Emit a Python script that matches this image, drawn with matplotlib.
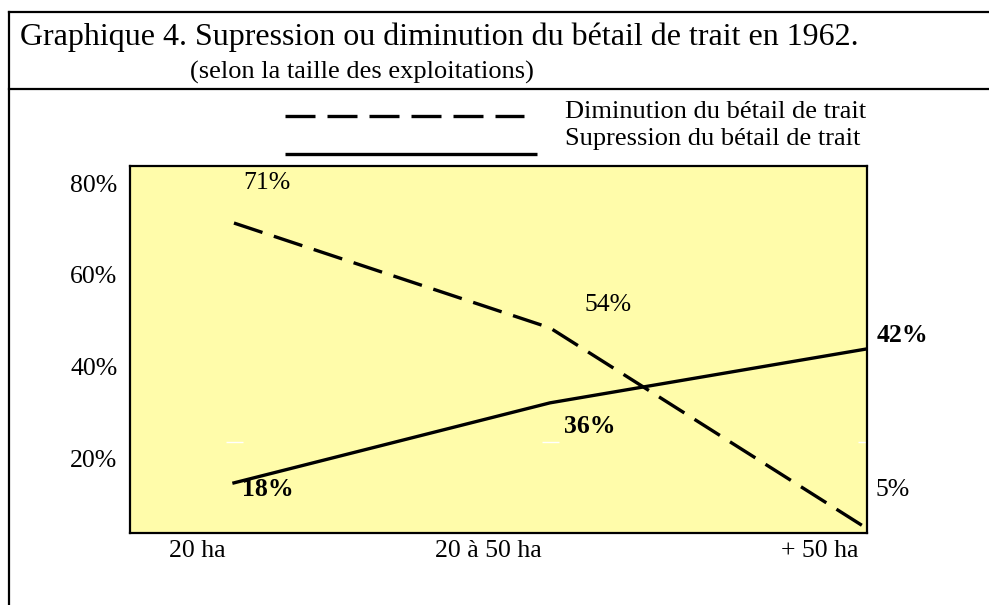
import matplotlib
matplotlib.use("Agg")
import matplotlib.pyplot as plt
import numpy as np
from matplotlib.lines import Line2D
from matplotlib import transforms

plt.rcParams["font.family"] = ["Liberation Serif", "DejaVu Serif"]

categories = ["20 ha", "20 à 50 ha", "+ 50 ha"]
# positions des courbes telles qu'elles sont tracées dans l'original
diminution = [71.3, 48.5, 5.0]
supression = [14.8, 32.2, 43.9]
# valeurs imprimées à côté des points
diminution_labels = ["71%", "54%", "5%"]
supression_labels = ["18%", "36%", "42%"]
y_ticks = [20, 40, 60, 80]
grid_level = 23.7

W, H = 989, 605
FS = 18.5

fig = plt.figure(figsize=(W / 100, H / 100), dpi=100)

# cadre et titre
frame = dict(transform=fig.transFigure, color="black", lw=1.6)
fig.add_artist(Line2D([9 / W, 9 / W], [1 - 12 / H, 0], **frame))
fig.add_artist(Line2D([9 / W, 1], [1 - 12 / H, 1 - 12 / H], **frame))
fig.add_artist(Line2D([9 / W, 1], [1 - 89 / H, 1 - 89 / H], **frame))
fig.text(20 / W, 1 - 45 / H,
         "Graphique 4. Supression ou diminution du bétail de trait en 1962.",
         fontsize=23, va="baseline", ha="left")
fig.text(190 / W, 1 - 79 / H, "(selon la taille des exploitations)",
         fontsize=19, va="baseline", ha="left")

# légende dessinée à la main
dash = (9, 3.6)
fig.add_artist(Line2D([285 / W, 524 / W], [1 - 116 / H, 1 - 116 / H],
                      transform=fig.transFigure, color="black", lw=2.4,
                      linestyle=(0, dash), dash_capstyle="butt"))
fig.add_artist(Line2D([285 / W, 537 / W], [1 - 154 / H, 1 - 154 / H],
                      transform=fig.transFigure, color="black", lw=2.4,
                      solid_capstyle="butt"))
fig.text(565 / W, 1 - 118 / H, "Diminution du bétail de trait",
         fontsize=19, va="baseline", ha="left")
fig.text(565 / W, 1 - 145 / H, "Supression du bétail de trait",
         fontsize=19, va="baseline", ha="left")

ax = fig.add_axes([130 / W, 1 - 533 / H, 737 / W, 367 / H])
ax.set_facecolor("#FFFCAA")
x = np.arange(len(categories))

ax.hlines([grid_level] * len(x), x - 0.025, x + 0.03, color="white", lw=1)
ax.plot(x, diminution, color="black", lw=2.4, linestyle=(0, dash),
        dash_capstyle="butt", clip_on=False)
ax.plot(x, supression, color="black", lw=2.4, clip_on=False)

dim_offsets = [(33, 40), (58, 23), (27, 38)]
sup_offsets = [(34, -7), (40, -24), (36, 14)]
for xi, yi, lab, off in zip(x, diminution, diminution_labels, dim_offsets):
    ax.annotate(lab, (xi, yi), xytext=off, textcoords="offset pixels",
                ha="center", va="center", fontsize=FS)
for xi, yi, lab, off in zip(x, supression, supression_labels, sup_offsets):
    ax.annotate(lab, (xi, yi), xytext=off, textcoords="offset pixels",
                ha="center", va="center", fontsize=FS, fontweight="bold",
                annotation_clip=False)

ax.set_xlim(-0.329, 2.003)
ax.set_ylim(3.9, 83.7)
ax.set_yticks(y_ticks, [f"{v}%" for v in y_ticks])
ax.set_xticks(x, categories)
ax.tick_params(length=0, labelsize=FS)
ax.tick_params(axis="y", pad=9)
ax.tick_params(axis="x", pad=5)
shift = transforms.ScaledTranslation(-8 / 100, 0, fig.dpi_scale_trans)
for lab in ax.get_xticklabels():
    lab.set_horizontalalignment("right")
    lab.set_transform(lab.get_transform() + shift)

for s in ax.spines.values():
    s.set_linewidth(1.6)

fig.savefig("out.png", dpi=100)
